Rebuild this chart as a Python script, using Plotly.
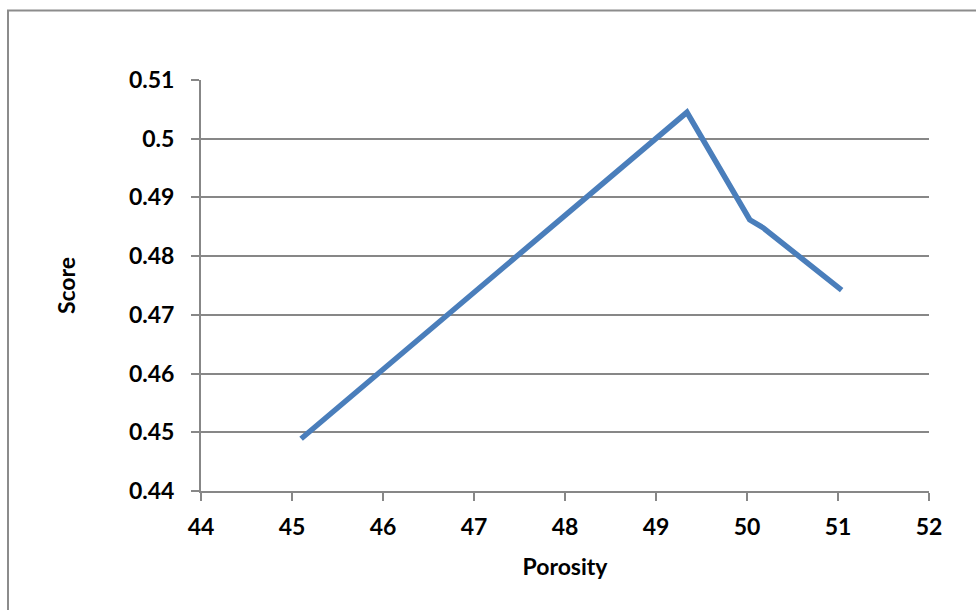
import plotly.graph_objects as go

porosity = [45.10, 49.34, 50.03, 50.18, 51.04]
score = [0.4489, 0.5045, 0.4862, 0.4848, 0.4742]

x_ticks = [44, 45, 46, 47, 48, 49, 50, 51, 52]
y_ticks = [0.44, 0.45, 0.46, 0.47, 0.48, 0.49, 0.5, 0.51]
y_tick_labels = ["0.44", "0.45", "0.46", "0.47", "0.48", "0.49", "0.5", "0.51"]

FONT = "Lato"
GRID = "#878787"
FS = 23

fig = go.Figure()
fig.add_trace(go.Scatter(
    x=porosity, y=score, mode="lines",
    line=dict(color="#4A7EBB", width=5.5),
    showlegend=False, hoverinfo="x+y",
))

fig.update_layout(
    width=976, height=610,
    margin=dict(l=201, r=47, t=80, b=119),
    paper_bgcolor="white", plot_bgcolor="white",
    font=dict(family=FONT, size=FS, color="black"),
    xaxis=dict(
        range=[44, 52], tickvals=x_ticks, ticktext=[str(v) for v in x_ticks],
        showgrid=False, zeroline=False,
        showline=True, linecolor=GRID, linewidth=2,
        ticks="outside", ticklen=8, tickwidth=2, tickcolor=GRID,
        tickfont=dict(family=FONT, size=FS, color="black", weight="bold"),
        ticklabelstandoff=6,
        title=dict(text="<b>Porosity</b>", font=dict(family=FONT, size=FS), standoff=20),
    ),
    yaxis=dict(
        range=[0.44, 0.51], tickvals=y_ticks, ticktext=y_tick_labels,
        showgrid=True, gridcolor=GRID, gridwidth=2, zeroline=False,
        showline=True, linecolor=GRID, linewidth=2,
        ticks="outside", ticklen=8, tickwidth=2, tickcolor=GRID,
        tickfont=dict(family=FONT, size=FS, color="black", weight="bold"),
        ticklabelstandoff=12,
        title=dict(text="<b>Score</b>", font=dict(family=FONT, size=FS), standoff=47),
    ),
    shapes=[dict(
        type="rect", xref="paper", yref="paper",
        x0=(8 - 201) / 728, x1=1.2, y0=-0.5, y1=(491 - 10.5) / 411,
        line=dict(color="#8c8c8c", width=2), fillcolor="rgba(0,0,0,0)", layer="below",
    )],
)

fig.write_html("out.html")
